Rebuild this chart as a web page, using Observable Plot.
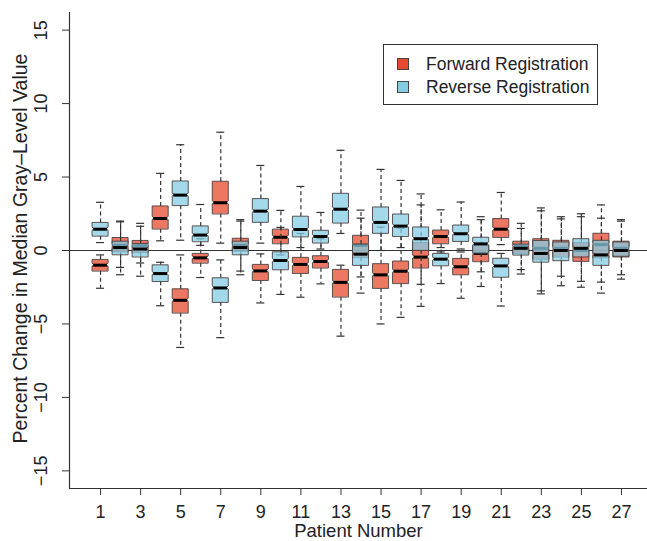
<!DOCTYPE html>
<html>
<head>
<meta charset="utf-8">
<script src="https://cdn.jsdelivr.net/npm/d3@7"></script>
<script src="https://cdn.jsdelivr.net/npm/@observablehq/plot@0.6"></script>
<style>
  body { margin: 0; background: #fff; font-family: "Liberation Sans", Arial, sans-serif; }
  #wrap { position: relative; width: 647px; height: 541px; }
  #legend { position: absolute; left: 383px; top: 44px; width: 215px; height: 61px; border: 1px solid #333; background: #fff; box-sizing: border-box; }
  .item { position: absolute; left: 13px; height: 20px; font-size: 17.5px; color: #222; display: flex; align-items: center; white-space: nowrap; }
  .sw { width: 12px; height: 12px; border: 1px solid #444; margin-right: 17px; box-sizing: border-box; }
</style>
</head>
<body>
<div id="wrap"></div>
<script>
const patients = [1,2,3,4,5,6,7,8,9,10,11,12,13,14,15,16,17,18,19,20,21,22,23,24,25,26,27];
const xTicks = [1,3,5,7,9,11,13,15,17,19,21,23,25,27];
const yTicks = [-15,-10,-5,0,5,10,15];
const seriesNames = ["Forward Registration", "Reverse Registration"];

// Forward registration (red)
const fwdLow  = [-2.57,-1.15,-0.85,0.66,-6.6,-1.84,0.5,-1.4,-3.57,-0.3,-3.18,-2.27,-5.83,-1.8,-5.0,-4.55,-3.8,-0.1,-3.25,-2.45,0.4,-1.3,-2.75,-1.75,-2.1,-2.15,-1.65];
const fwdQ1   = [-1.41,-0.1,-0.15,1.45,-4.27,-0.87,2.48,-0.05,-2.05,0.45,-1.57,-1.2,-3.18,-0.5,-2.59,-2.26,-1.2,0.45,-1.66,-0.77,0.88,-0.2,-0.6,-0.45,-0.75,-0.5,-0.45];
const fwdMed  = [-1.0,0.35,0.35,2.18,-3.39,-0.5,3.25,0.35,-1.39,0.9,-0.95,-0.75,-2.17,0.35,-1.66,-1.41,-0.45,0.95,-1.11,-0.2,1.45,0.3,0.15,0.15,0.0,0.4,0.15];
const fwdQ3   = [-0.64,0.85,0.65,3.0,-2.64,-0.23,4.68,0.8,-0.98,1.42,-0.5,-0.39,-1.32,1.0,-0.93,-0.75,0.5,1.36,-0.57,0.3,2.14,0.6,0.77,0.66,0.5,1.14,0.6];
const fwdHigh = [-0.3,2.0,1.65,5.25,-0.3,0.8,8.05,2.1,-0.23,2.73,1.16,0.8,-1.0,2.2,1.59,1.52,3.1,2.77,-0.1,2.1,3.95,1.85,2.7,2.15,2.3,3.1,2.0];

// Reverse registration (blue)
const revLow  = [0.54,-1.65,-1.75,-3.76,0.7,0.35,-5.93,-1.65,0.5,-2.99,0.2,0.1,1.16,-2.9,0.0,0.2,-2.3,-2.25,0.1,-1.45,-3.78,-1.6,-2.95,-2.4,-2.5,-2.9,-1.95];
const revQ1   = [0.97,-0.3,-0.45,-2.12,3.05,0.59,-3.54,-0.3,1.91,-1.32,0.92,0.5,1.86,-1.02,1.16,0.94,0.0,-1.05,0.61,-0.2,-1.83,-0.32,-0.8,-0.7,-0.45,-1.02,-0.4];
const revMed  = [1.45,0.2,0.1,-1.57,3.77,1.05,-2.55,0.2,2.68,-0.68,1.43,0.95,2.81,-0.25,1.91,1.66,0.8,-0.59,1.14,0.45,-1.05,0.15,-0.2,0.0,0.15,-0.3,0.0];
const revQ3   = [1.88,0.6,0.45,-1.01,4.7,1.64,-1.89,0.6,3.5,-0.12,2.3,1.34,3.86,0.4,2.93,2.45,1.57,-0.23,1.7,0.87,-0.56,0.4,0.65,0.55,0.77,0.66,0.55];
const revHigh = [3.28,1.95,1.85,-0.8,7.2,3.13,-0.64,2.0,5.79,1.57,4.36,2.59,6.82,2.75,5.52,4.77,3.85,0.2,3.3,2.3,-0.2,1.5,2.9,2.3,2.5,2.2,2.1];

const colors = ["#E6492D", "#84CCE4"];
const fillOpacity = 0.75;

function rows(low, q1, med, q3, high) {
  return patients.map((p, i) => ({p, low: low[i], q1: q1[i], med: med[i], q3: q3[i], high: high[i]}));
}
const fwd = rows(fwdLow, fwdQ1, fwdMed, fwdQ3, fwdHigh);
const rev = rows(revLow, revQ1, revMed, revQ3, revHigh);

const hw = 0.4;   // half box width (x units)
const cw = 0.2;   // half cap width
function notchPoly(data) {
  const out = [];
  for (const d of data) {
    const n = Math.min(0.1, (d.med - d.q1) * 0.5, (d.q3 - d.med) * 0.5);
    out.push({p: d.p, y: d.q1, x1: d.p - hw, x2: d.p + hw});
    out.push({p: d.p, y: d.med - n, x1: d.p - hw, x2: d.p + hw});
    out.push({p: d.p, y: d.med, x1: d.p - hw * 0.75, x2: d.p + hw * 0.75});
    out.push({p: d.p, y: d.med + n, x1: d.p - hw, x2: d.p + hw});
    out.push({p: d.p, y: d.q3, x1: d.p - hw, x2: d.p + hw});
  }
  return out;
}

function boxMarks(data, color) {
  const ink = "#333";
  return [
    Plot.ruleX(data, {x: "p", y1: "q3", y2: "high", stroke: ink, strokeWidth: 1.2, strokeDasharray: "4,3"}),
    Plot.ruleX(data, {x: "p", y1: "q1", y2: "low", stroke: ink, strokeWidth: 1.2, strokeDasharray: "4,3"}),
    Plot.ruleY(data, {y: "high", x1: d => d.p - cw, x2: d => d.p + cw, stroke: ink, strokeWidth: 1.2}),
    Plot.ruleY(data, {y: "low", x1: d => d.p - cw, x2: d => d.p + cw, stroke: ink, strokeWidth: 1.2}),
    Plot.areaX(notchPoly(data), {y: "y", x1: "x1", x2: "x2", z: "p", fill: color, fillOpacity, stroke: "#4a4040", strokeWidth: 1, strokeOpacity: 0.9}),
    Plot.ruleY(data, {y: "med", x1: d => d.p - hw * 0.85, x2: d => d.p + hw * 0.85, stroke: "#000", strokeWidth: 3})
  ];
}

const xDomain = [-0.55, 28.3];
const yDomain = [-16.2, 16.2];
const fmt = d => (d < 0 ? "\u2212" + Math.abs(d) : String(d));

const chart = Plot.plot({
  width: 647,
  height: 541,
  marginLeft: 69,
  marginRight: 0,
  marginTop: 12,
  marginBottom: 53,
  style: {fontFamily: "Liberation Sans, Arial, sans-serif", fontSize: "18px", color: "#222", background: "#fff"},
  x: {domain: xDomain},
  y: {domain: yDomain},
  marks: [
    Plot.ruleY([0], {stroke: "#333", strokeWidth: 1.2}),
    ...boxMarks(fwd, colors[0]),
    ...boxMarks(rev, colors[1]),
    Plot.ruleX([xDomain[0]], {stroke: "#333", strokeWidth: 1.2}),
    Plot.ruleY([yDomain[0]], {stroke: "#333", strokeWidth: 1.2}),
    Plot.axisX({ticks: xTicks, tickSize: 7, tickPadding: 10, tickFormat: d => String(d), label: null, stroke: "#333", fontSize: 18}),
    Plot.axisY({ticks: yTicks, tickSize: 7, tickFormat: () => "", label: null, stroke: "#333"}),
    Plot.text(yTicks, {y: d => d, text: fmt, frameAnchor: "left", dx: -28, rotate: -90, textAnchor: "middle", lineAnchor: "middle", fontSize: 18, fill: "#222"}),
    Plot.text(["Patient Number"], {text: d => d, frameAnchor: "bottom", dy: 43, textAnchor: "middle", lineAnchor: "middle", fontSize: 18.5, fill: "#222"}),
    Plot.text(["Percent Change in Median Gray\u2013Level Value"], {text: d => d, frameAnchor: "left", dx: -49, rotate: -90, dy: -2, textAnchor: "middle", lineAnchor: "middle", fontSize: 19.5, fill: "#222"})
  ]
});

const wrap = document.getElementById("wrap");
wrap.appendChild(chart);
const legend = document.createElement("div");
legend.id = "legend";
seriesNames.forEach((name, i) => {
  const item = document.createElement("div");
  item.className = "item";
  item.style.top = (9 + i * 23) + "px";
  const sw = document.createElement("span");
  sw.className = "sw";
  sw.style.background = colors[i];
  const t = document.createElement("span");
  t.textContent = name;
  item.appendChild(sw);
  item.appendChild(t);
  legend.appendChild(item);
});
wrap.appendChild(legend);
</script>
</body>
</html>
